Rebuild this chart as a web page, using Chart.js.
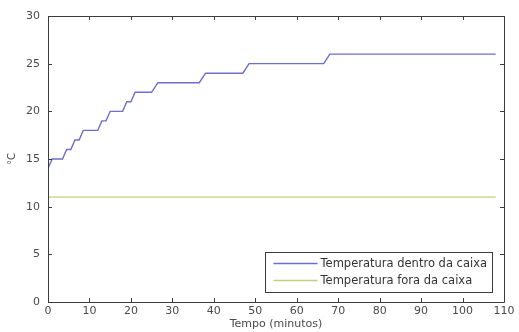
<!DOCTYPE html>
<html>
<head>
<meta charset="utf-8">
<script src="https://cdn.jsdelivr.net/npm/chart.js@4"></script>
<style>
html,body{margin:0;padding:0;background:#fff;}
#wrap{width:519px;height:332px;}
</style>
</head>
<body>
<div id="wrap"><canvas id="c" width="519" height="332"></canvas></div>
<script>
// Data
const timeInside = [0, 1, 3.5, 4.5, 5.5, 6.5, 7.5, 8.5, 12, 13, 14, 15, 18, 19, 20, 21, 25, 26.5, 36.5, 38, 47, 48.5, 66.5, 68, 108];
const tempInside = [14, 15, 15, 16, 16, 17, 17, 18, 18, 19, 19, 20, 20, 21, 21, 22, 22, 23, 23, 24, 24, 25, 25, 26, 26];
const timeOutside = [0, 108];
const tempOutside = [11, 11];
const seriesLabels = ['Temperatura dentro da caixa', 'Temperatura fora da caixa'];
const xTicks = [0, 10, 20, 30, 40, 50, 60, 70, 80, 90, 100, 110];
const yTicks = [0, 5, 10, 15, 20, 25, 30];
const xTitle = 'Tempo (minutos)';
const yTitle = '°C';

const FONT = "'DejaVu Sans', sans-serif";
const AXIS = '#3c3c3c';
const TXT = '#4a4a4a';

const toPts = (xs, ys) => xs.map((x, i) => ({x: x, y: ys[i]}));

const boxTicks = {
  id: 'boxTicks',
  afterDatasetsDraw(chart) {
    const {ctx, chartArea: a, scales: {x, y}} = chart;
    ctx.save();
    ctx.strokeStyle = AXIS;
    ctx.lineWidth = 1;
    ctx.beginPath();
    ctx.rect(Math.round(a.left) + 0.5, Math.round(a.top) + 0.5, Math.round(a.right - a.left), Math.round(a.bottom - a.top));
    ctx.stroke();
    const L = 4;
    ctx.beginPath();
    xTicks.forEach(v => {
      const px = Math.round(x.getPixelForValue(v)) + 0.5;
      ctx.moveTo(px, a.bottom); ctx.lineTo(px, a.bottom - L);
      ctx.moveTo(px, a.top); ctx.lineTo(px, a.top + L);
    });
    yTicks.forEach(v => {
      const py = Math.round(y.getPixelForValue(v)) + 0.5;
      ctx.moveTo(a.left, py); ctx.lineTo(a.left + L, py);
      ctx.moveTo(a.right, py); ctx.lineTo(a.right - L, py);
    });
    ctx.stroke();
    ctx.restore();
  }
};

const insideLegend = {
  id: 'insideLegend',
  afterDraw(chart) {
    const {ctx, chartArea: a} = chart;
    const ds = chart.data.datasets;
    ctx.save();
    ctx.font = '11.5px ' + FONT;
    const lineLen = 44, gap = 3, padL = 9, padR = 5, rowH = 17, padV = 3;
    let tw = 0;
    ds.forEach(d => { tw = Math.max(tw, ctx.measureText(d.label).width); });
    const w = padL + lineLen + gap + tw + padR;
    const h = padV * 2 + rowH * ds.length;
    const right = a.right - 12, bottom = a.bottom - 10;
    const left = right - w, top = bottom - h;
    ctx.fillStyle = '#fff';
    ctx.fillRect(left, top, w, h);
    ctx.strokeStyle = AXIS;
    ctx.lineWidth = 1;
    ctx.strokeRect(Math.round(left) + 0.5, Math.round(top) + 0.5, Math.round(w), Math.round(h));
    ds.forEach((d, i) => {
      const cy = top + padV + rowH * i + rowH / 2;
      ctx.strokeStyle = d.borderColor;
      ctx.lineWidth = d.borderWidth;
      ctx.beginPath();
      ctx.moveTo(left + padL, cy); ctx.lineTo(left + padL + lineLen, cy);
      ctx.stroke();
      ctx.fillStyle = '#333';
      ctx.textBaseline = 'middle';
      ctx.fillText(d.label, left + padL + lineLen + gap, cy + 0.5);
    });
    ctx.restore();
  }
};

new Chart(document.getElementById('c'), {
  type: 'scatter',
  data: {
    datasets: [
      {label: seriesLabels[0], data: toPts(timeInside, tempInside), showLine: true, borderColor: 'rgb(110,110,205)', borderWidth: 1.4, pointRadius: 0, tension: 0},
      {label: seriesLabels[1], data: toPts(timeOutside, tempOutside), showLine: true, borderColor: 'rgb(195,205,130)', borderWidth: 1.4, pointRadius: 0, tension: 0}
    ]
  },
  options: {
    responsive: false,
    animation: false,
    devicePixelRatio: 1,
    layout: {padding: {left: 0, right: 15, top: 16, bottom: 0}},
    plugins: {legend: {display: false}, tooltip: {enabled: false}},
    scales: {
      x: {
        type: 'linear', min: 0, max: 110,
        afterBuildTicks: s => { s.ticks = xTicks.map(v => ({value: v})); },
        afterFit: s => { s.height = 30; },
        grid: {display: false, drawTicks: false},
        border: {display: false},
        ticks: {color: TXT, font: {family: FONT, size: 11}, padding: 3, maxRotation: 0, autoSkip: false},
        title: {display: true, text: xTitle, color: TXT, font: {family: FONT, size: 11}, padding: {top: 0, bottom: 1}}
      },
      y: {
        type: 'linear', min: 0, max: 30,
        afterBuildTicks: s => { s.ticks = yTicks.map(v => ({value: v})); },
        afterFit: s => { s.width = 48; },
        grid: {display: false, drawTicks: false},
        border: {display: false},
        ticks: {color: TXT, font: {family: FONT, size: 11}, padding: 8, autoSkip: false},
        title: {display: true, text: yTitle, color: TXT, font: {family: FONT, size: 10}, padding: {top: 6, bottom: 0}}
      }
    }
  },
  plugins: [boxTicks, insideLegend]
});
</script>
</body>
</html>
